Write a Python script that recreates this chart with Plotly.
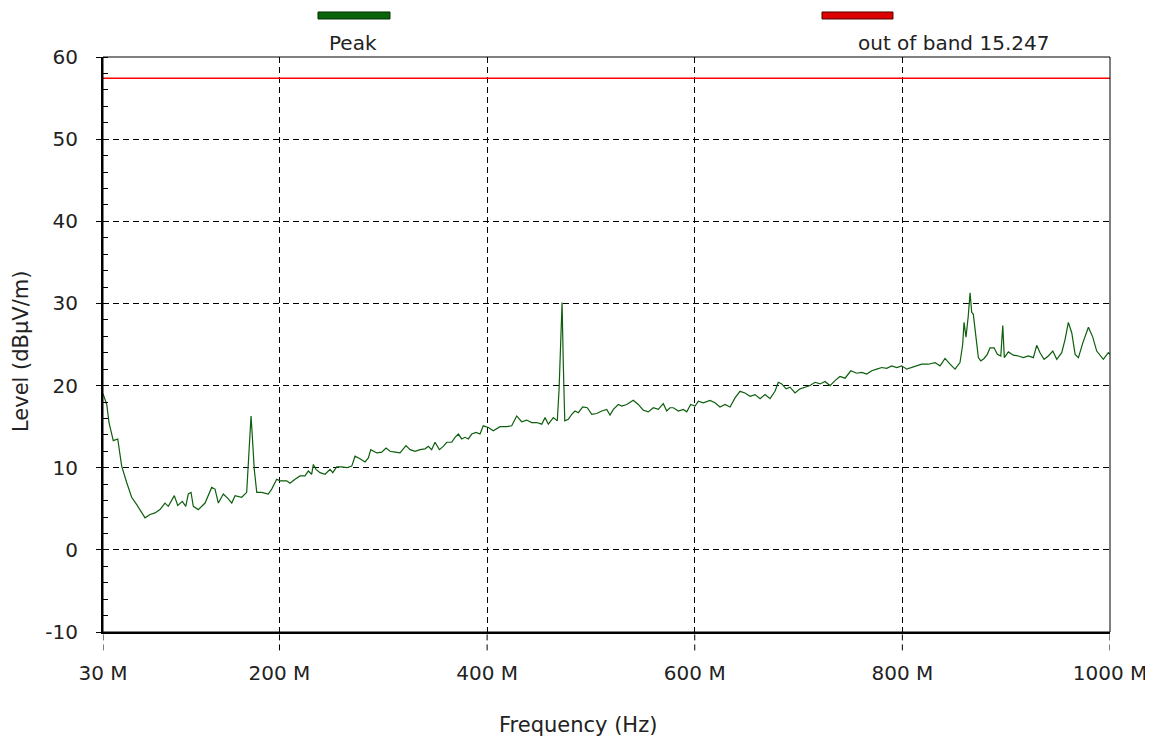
import plotly.graph_objects as go

# frequency in MHz, level in dBuV/m
freq_mhz = [
    30.0, 31.0, 33.6, 35.8, 38.4, 39.9, 44.2, 46.4, 48.0, 52.8, 57.6, 62.5, 67.3, 70.5, 75.3,
    80.1, 84.9, 89.7, 92.9, 98.7, 102.0, 106.4, 109.7, 112.2, 114.8, 117.0, 121.8, 128.3,
    134.7, 137.9, 141.1, 145.9, 150.7, 154.0, 157.2, 163.6, 168.4, 170.6, 172.6, 173.8,
    175.7, 178.1, 182.9, 189.2, 192.5, 197.3, 200.5, 207.0, 210.1, 215.0, 219.8, 224.6,
    227.8, 231.0, 232.6, 235.2, 239.0, 243.9, 248.7, 251.3, 255.1, 259.9, 264.8, 269.6,
    272.8, 277.6, 282.4, 285.6, 287.9, 293.7, 298.5, 302.6, 306.5, 311.3, 316.1, 321.9,
    325.8, 330.6, 335.4, 340.2, 343.4, 346.6, 349.8, 354.0, 357.8, 361.1, 365.9, 369.1,
    372.3, 375.5, 378.7, 381.9, 385.2, 389.3, 393.2, 396.3, 401.2, 406.0, 412.4, 418.9,
    423.7, 428.5, 433.3, 438.1, 442.9, 447.8, 452.6, 455.8, 459.0, 463.8, 467.6, 469.3,
    470.9, 472.2, 473.4, 474.8, 478.2, 481.5, 484.7, 487.9, 492.1, 496.5, 500.8, 505.6,
    510.4, 515.2, 518.4, 521.6, 526.4, 529.7, 534.5, 540.8, 545.6, 550.5, 555.3, 560.1,
    564.9, 569.7, 573.0, 576.2, 579.4, 584.2, 589.0, 592.3, 596.1, 600.3, 603.5, 608.3,
    614.7, 619.5, 624.3, 629.2, 634.0, 638.8, 643.6, 648.4, 653.3, 658.1, 662.9, 667.7,
    672.5, 677.3, 680.5, 683.8, 688.0, 691.8, 696.6, 701.4, 706.2, 711.1, 715.9, 720.7,
    725.5, 730.3, 735.1, 739.9, 744.8, 750.3, 756.0, 760.9, 765.7, 770.5, 775.3, 780.1,
    784.9, 789.7, 794.6, 799.4, 804.2, 812.2, 818.6, 825.0, 831.5, 836.3, 841.1, 845.9,
    850.7, 855.5, 858.1, 859.4, 861.3, 863.5, 865.2, 866.8, 868.3, 870.9, 873.2, 875.5,
    878.7, 881.8, 884.5, 888.3, 891.5, 894.8, 896.7, 898.2, 902.1, 906.9, 911.7, 916.5,
    921.3, 926.2, 929.4, 932.6, 936.5, 940.6, 944.9, 948.7, 953.5, 956.7, 959.9, 963.2,
    966.4, 969.6, 973.8, 979.2, 983.4, 987.2, 993.6, 998.4, 1000.0,
]
peak_level = [
    19.0, 18.7, 17.7, 15.5, 14.3, 13.3, 13.5, 11.4, 10.2, 8.2, 6.4, 5.5, 4.5, 3.9, 4.3,
    4.5, 4.9, 5.7, 5.3, 6.6, 5.4, 5.9, 5.3, 6.8, 7.0, 5.3, 4.9, 5.7,
    7.6, 7.4, 5.7, 6.8, 6.2, 5.7, 6.6, 6.4, 7.0, 11.6, 16.3, 13.9,
    9.8, 7.0, 7.0, 6.8, 7.4, 8.6, 8.4, 8.4, 8.1, 8.6, 9.0, 9.0,
    9.6, 9.2, 10.4, 9.8, 9.4, 9.2, 9.8, 9.4, 10.1, 10.1, 10.0, 10.2,
    11.4, 11.1, 10.7, 11.2, 12.2, 11.8, 11.9, 12.4, 12.0, 11.9, 11.8, 12.7,
    12.2, 12.0, 12.2, 12.3, 12.6, 12.2, 13.1, 12.2, 12.6, 13.1, 13.1, 13.7,
    14.1, 13.5, 13.7, 13.5, 14.1, 14.3, 14.1, 15.1, 14.9, 14.5, 15.0, 15.0,
    15.1, 16.3, 15.6, 15.8, 15.5, 15.5, 15.3, 16.1, 15.3, 16.1, 15.7, 19.5,
    26.5, 30.1, 22.6, 15.7, 15.9, 16.5, 16.9, 16.7, 17.4, 17.3, 16.5, 16.6,
    16.9, 17.1, 16.4, 17.1, 17.7, 17.5, 17.7, 18.2, 17.7, 17.0, 16.8, 17.3,
    17.1, 17.8, 16.9, 17.3, 17.3, 16.9, 17.1, 16.8, 17.7, 17.5, 18.1, 17.9,
    18.2, 17.9, 17.4, 17.7, 17.4, 18.5, 19.3, 19.1, 18.7, 18.9, 18.4, 18.9,
    18.4, 19.3, 20.4, 20.2, 19.6, 19.8, 19.1, 19.6, 19.8, 20.0, 20.4, 20.2,
    20.5, 20.0, 20.6, 21.1, 20.9, 21.8, 21.5, 21.6, 21.4, 21.8, 22.0, 22.2,
    22.1, 22.4, 22.2, 22.4, 22.0, 22.3, 22.6, 22.6, 22.8, 22.4, 23.3, 22.6,
    22.0, 22.8, 25.0, 27.7, 25.9, 28.5, 31.3, 28.9, 28.7, 25.9, 23.4, 23.0,
    23.3, 23.8, 24.6, 24.6, 23.8, 23.6, 27.3, 23.4, 24.1, 23.7, 23.6, 23.4,
    23.6, 23.4, 24.9, 24.0, 23.2, 23.6, 24.2, 23.2, 24.0, 25.6, 27.7, 26.4,
    23.8, 23.4, 25.2, 27.1, 25.9, 24.2, 23.2, 24.0, 23.8,
]

limit_freq = [30, 1000]
limit_level = 57.4

x_ticks = [30, 200, 400, 600, 800, 1000]
x_labels = ["30 M", "200 M", "400 M", "600 M", "800 M", "1000 M"]
y_ticks = [-10, 0, 10, 20, 30, 40, 50, 60]
y_labels = ["-10", "0", "10", "20", "30", "40", "50", "60"]

font = "DejaVu Sans"

fig = go.Figure()

fig.add_trace(go.Scatter(
    x=limit_freq, y=[limit_level] * len(limit_freq),
    mode="lines", line=dict(color="#ff0000", width=1.5),
    name="out of band 15.247", hoverinfo="skip"
))

fig.add_trace(go.Scatter(
    x=freq_mhz, y=peak_level,
    mode="lines", line=dict(color="#0d5e0d", width=1.2),
    name="Peak"
))

# dashed tick marks under the x axis
shapes = []
for t in x_ticks:
    shapes.append(dict(type="line", xref="x", yref="y domain", x0=t, x1=t, y0=-0.032, y1=0,
                       line=dict(color="black", width=1, dash="6px,4px")))
# top/right frame
shapes.append(dict(type="rect", xref="paper", yref="paper", x0=0, x1=1, y0=0, y1=1,
                   line=dict(color="black", width=1), layer="above"))
# legend swatches
shapes.append(dict(type="rect", xref="paper", yref="paper", x0=0.2135, x1=0.2850,
                   y0=1.0661, y1=1.0783, fillcolor="#0a640a", line=dict(color="#053005", width=1)))
shapes.append(dict(type="rect", xref="paper", yref="paper", x0=0.714, x1=0.7845,
                   y0=1.0661, y1=1.0783, fillcolor="#dd0000", line=dict(color="#550000", width=1)))

fig.update_layout(
    width=1145, height=734,
    margin=dict(l=95, r=43, t=49, b=110),
    paper_bgcolor="white", plot_bgcolor="white",
    showlegend=False,
    font=dict(family=font, size=20, color="#222222"),
    shapes=shapes,
    annotations=[
        dict(text="Peak", xref="paper", yref="paper", x=0.2483, y=1.0243,
             showarrow=False, xanchor="center", yanchor="middle"),
        dict(text="out of band 15.247", xref="paper", yref="paper", x=0.8446, y=1.0243,
             showarrow=False, xanchor="center", yanchor="middle"),
        # axis titles (off-centre in the original)
        dict(text="Frequency (Hz)", xref="paper", yref="paper", x=0.4717, y=-0.1617,
             showarrow=False, xanchor="center", yanchor="middle", font=dict(size=21)),
        dict(text="Level (dBµV/m)", xref="paper", yref="paper", x=-0.0814, y=0.4887,
             showarrow=False, xanchor="center", yanchor="middle", textangle=-90,
             font=dict(size=21)),
    ],
)

fig.update_xaxes(
    range=[30, 1000], tickvals=x_ticks, ticktext=x_labels,
    showgrid=True, gridcolor="black", gridwidth=1, griddash="6px,4px",
    showline=True, linecolor="black", linewidth=2,
    ticks="", ticklabelstandoff=22, zeroline=False, automargin=False,
)

fig.update_yaxes(
    range=[-10, 60], tickvals=y_ticks, ticktext=y_labels,
    showgrid=True, gridcolor="black", gridwidth=1, griddash="6px,4px",
    showline=True, linecolor="black", linewidth=2,
    ticks="outside", ticklen=5, tickcolor="black", ticklabelstandoff=14,
    minor=dict(dtick=2, ticks="inside", ticklen=5, tickcolor="black", showgrid=False),
    zeroline=False, automargin=False,
)

fig.write_html("out.html")
